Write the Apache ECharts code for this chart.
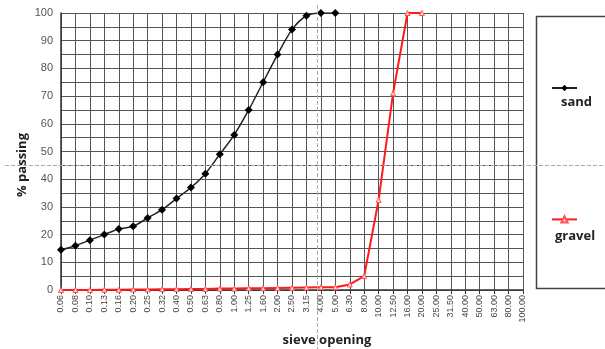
<!DOCTYPE html>
<html><head><meta charset="utf-8">
<script src="https://cdn.jsdelivr.net/npm/echarts@6/dist/echarts.min.js"></script>
<style>html,body{margin:0;padding:0;background:#fff}#c{width:605px;height:349px}</style>
</head><body><div id="c"></div>
<script>
const categories = ['0.06','0.08','0.10','0.13','0.16','0.20','0.25','0.32','0.40','0.50','0.63','0.80','1.00','1.25','1.60','2.00','2.50','3.15','4.00','5.00','6.30','8.00','10.00','12.50','16.00','20.00','25.00','31.50','40.00','50.00','63.00','80.00','100.00'];
const sand = [14.5,16,18,20,22,23,26,29,33,37,42,49,56,65,75,85,94,99,100,100];
const gravel = [0,0,0,0.1,0.1,0.2,0.2,0.3,0.3,0.4,0.4,0.5,0.5,0.6,0.6,0.7,0.8,0.9,1,1,2,5,32.5,71,100,100];
const yTicks = [0,10,20,30,40,50,60,70,80,90,100];

const chart = echarts.init(document.getElementById('c'));
chart.setOption({
  animation:false,
  grid:{left:61,right:82,top:13,bottom:59},
  xAxis:{type:'category',data:categories,boundaryGap:false,
    axisLine:{lineStyle:{color:'#333',width:1.5}},
    axisTick:{show:true,interval:0,length:4,lineStyle:{color:'#333'}},
    axisLabel:{interval:0,rotate:90,fontSize:9,color:'#444',fontFamily:'Liberation Sans',margin:5},
    splitLine:{show:true,interval:0,lineStyle:{color:'#555',width:1}}
  },
  yAxis:{type:'value',min:0,max:100,interval:5,
    axisLine:{show:true,lineStyle:{color:'#333',width:1.5}},
    axisTick:{show:false},
    axisLabel:{fontSize:11,color:'#555',fontFamily:'Liberation Sans',margin:8,
      formatter:v=>yTicks.includes(v)?String(v):''},
    splitLine:{show:true,lineStyle:{color:'#555',width:1}}
  },
  legend:{show:true,orient:'vertical',left:546,top:79,itemGap:124,itemWidth:25,itemHeight:8,
    data:['sand','gravel'],formatter:()=>'',textStyle:{fontSize:1}},
  graphic:[
    {type:'rect',shape:{x:536.5,y:16.5,width:80,height:272},style:{fill:'none',stroke:'#444',lineWidth:1.5}},
    {type:'text',left:561,top:96,style:{text:'sand',font:'bold 13px "Open Sans"',fill:'#222'}},
    {type:'text',left:555,top:230,style:{text:'gravel',font:'bold 13px "Open Sans"',fill:'#222'}},
    {type:'text',x:327,y:340,style:{text:'sieve opening',font:'bold 13px "Open Sans"',fill:'#222',align:'center',verticalAlign:'middle'}},
    {type:'text',x:22,y:165,rotation:Math.PI/2,style:{text:'% passing',font:'bold 13px "Open Sans"',fill:'#222',align:'center',verticalAlign:'middle'}},
    {type:'line',shape:{x1:317.5,y1:5,x2:317.5,y2:349},style:{stroke:'#aaa',lineDash:[4,2],lineWidth:1},z:100},
    {type:'line',shape:{x1:5,y1:165.5,x2:605,y2:165.5},style:{stroke:'#aaa',lineDash:[4,2],lineWidth:1},z:100}
  ],
  series:[
    {name:'sand',type:'line',data:sand,smooth:0.3,symbol:'diamond',symbolSize:8,
      lineStyle:{color:'#222',width:1.5},itemStyle:{color:'#000'}},
    {name:'gravel',type:'line',data:gravel,smooth:false,symbol:'triangle',symbolSize:5,
      lineStyle:{color:'#ff1a1a',width:2},itemStyle:{color:'#ffd0d0',borderColor:'#ff5555',borderWidth:1}}
  ]
});
</script></body></html>
